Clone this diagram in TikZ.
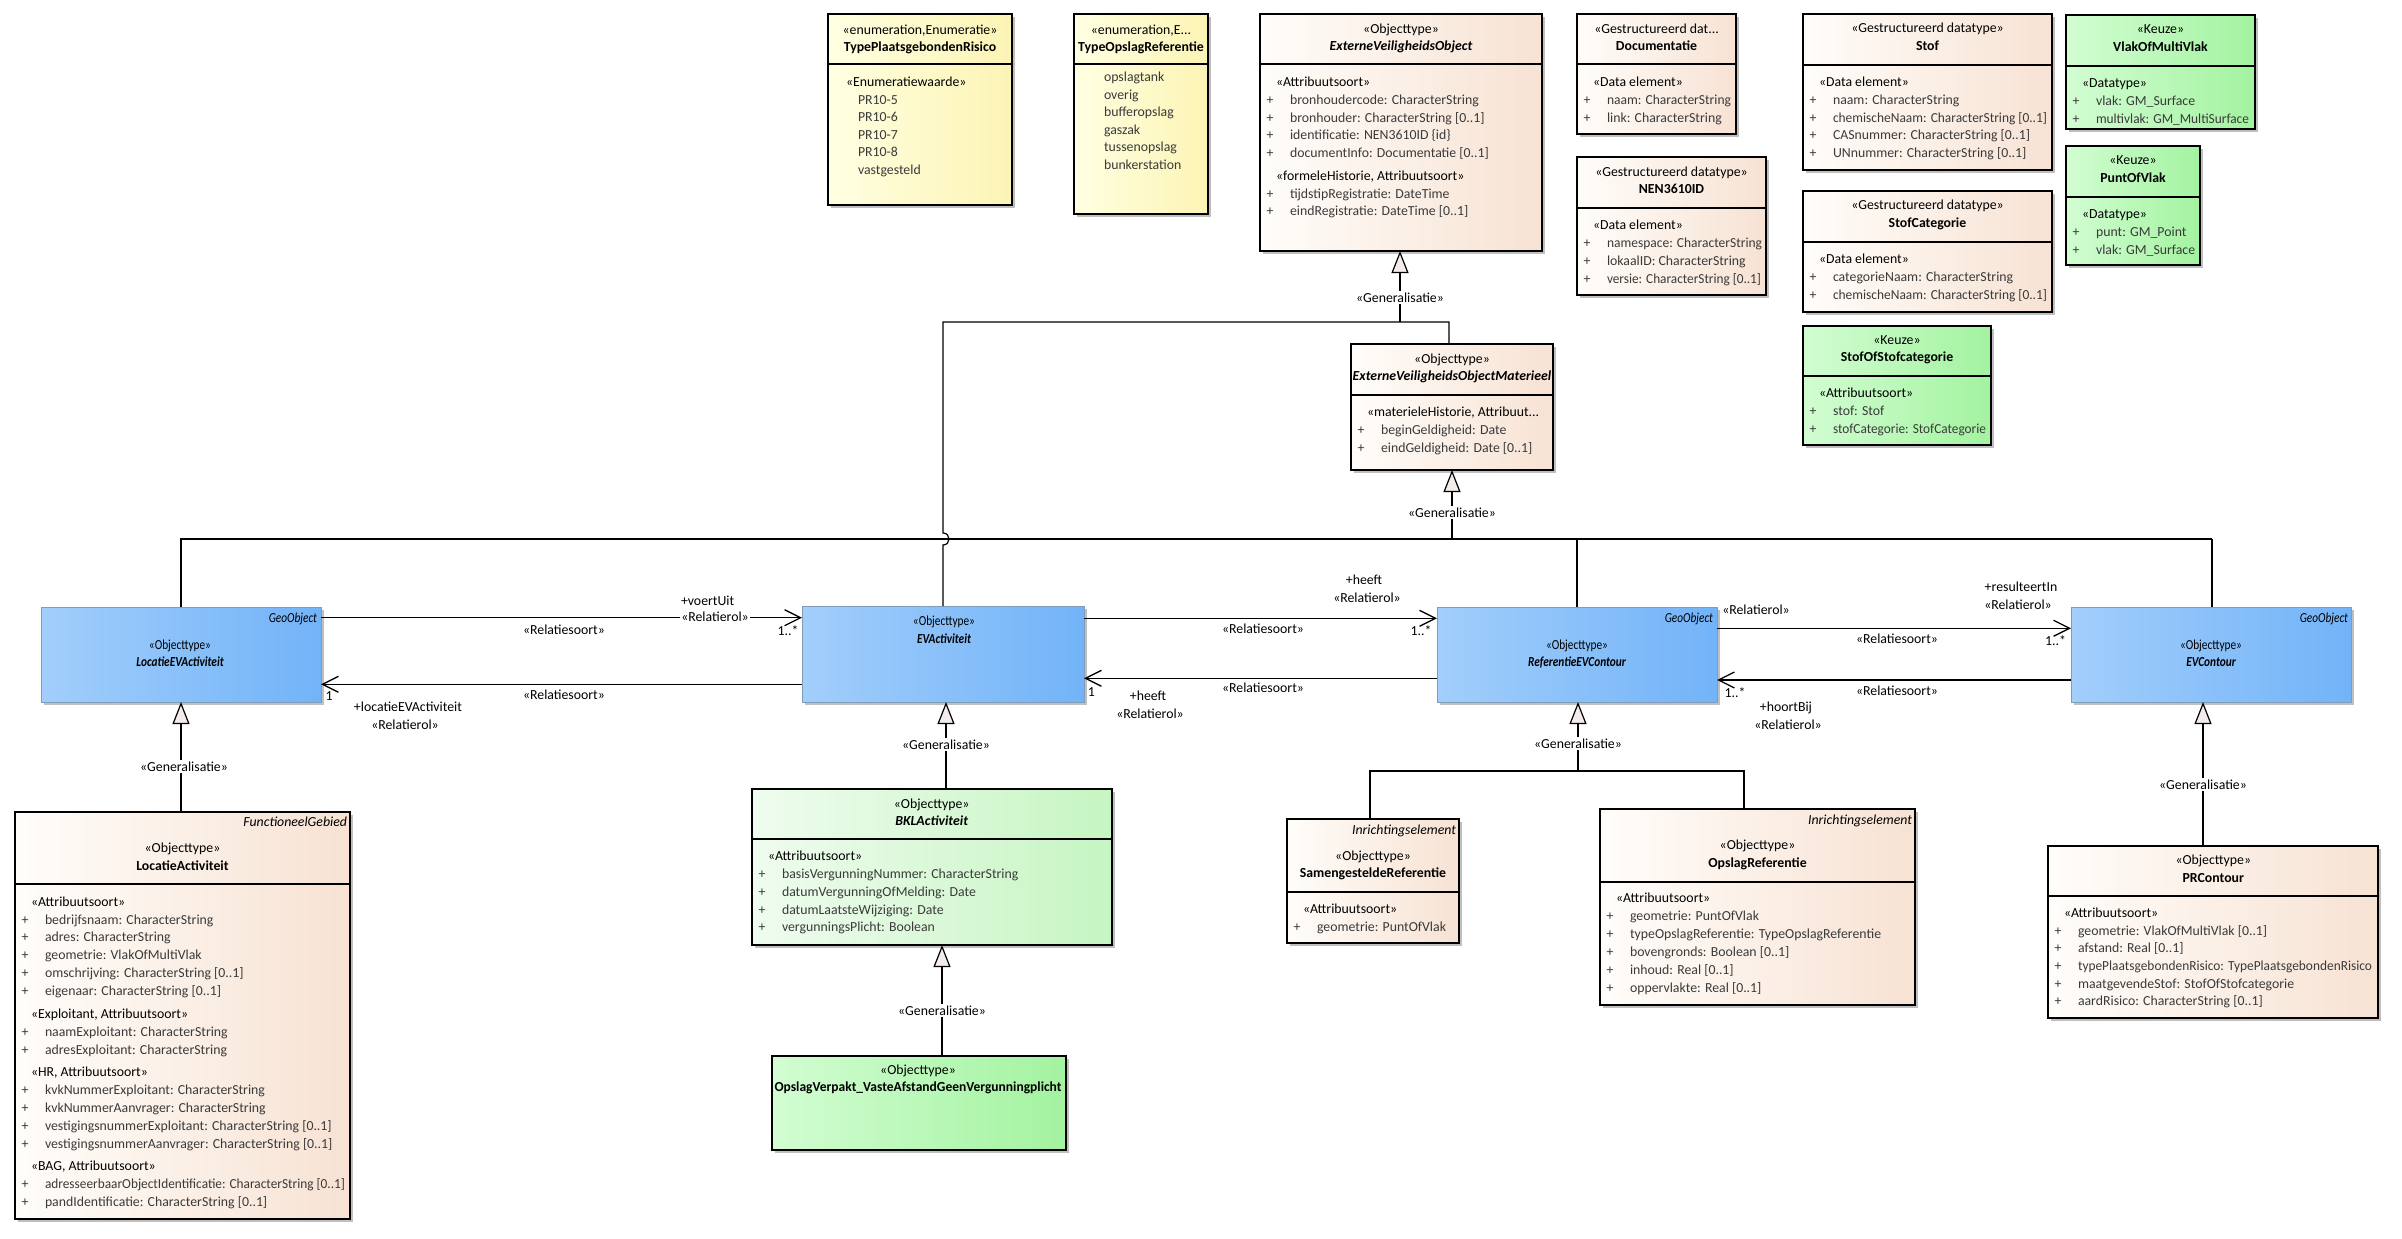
\documentclass[tikz,border=0pt]{standalone}
\usepackage{graphicx}
\usepackage{fontspec}
\setmainfont{Carlito}
\newfontfamily\narrowfont[FakeStretch=0.82]{Carlito}
\usetikzlibrary{arrows.meta,fit,shadows}
\definecolor{beigeL}{HTML}{FFFDFA}
\definecolor{beigeR}{HTML}{F7E2D3}
\definecolor{yelL}{HTML}{FFFFE2}
\definecolor{yelR}{HTML}{FCF4B4}
\definecolor{blueL}{HTML}{A2CEFB}
\definecolor{blueR}{HTML}{72B3F8}
\definecolor{blueD}{HTML}{7F9DB9}
\definecolor{grnL}{HTML}{D2FDD2}
\definecolor{grnR}{HTML}{A3F3A0}
\definecolor{lgrnL}{HTML}{EFFCEF}
\definecolor{lgrnR}{HTML}{C6F5C2}
\definecolor{trifill}{HTML}{F3ECEA}
\definecolor{attrc}{HTML}{3A3A3A}
\newcounter{tn}
\newcommand\tx[4][]{\stepcounter{tn}\node[anchor=mid,#1] (t\arabic{tn}) at (#2,#3) {#4};}
\newcommand\hd[4]{\tx{#1}{#2}{#3}\tx{#1}{#2+17.8}{#4}}
\newcommand\st[3]{\tx[anchor=mid west]{#1+16}{#2}{#3}}
\newcommand\at[3]{\tx[anchor=mid,text=attrc]{#1+10}{#2}{+}\tx[anchor=mid west,text=attrc]{#1+30}{#2}{#3}}
\newcommand\fw[2]{\resizebox{#1pt}{\height}{#2}}
\newcommand\sep[2]{\draw[sepline] (#1.west |- 0,#2) -- (#1.east |- 0,#2);}
\tikzset{
  every node/.style={font=\fontsize{13.8}{16}\selectfont, inner sep=0pt, outer sep=0pt},
  box/.style={draw=black, line width=1.4pt, inner sep=0pt,
    drop shadow={shadow xshift=3pt, shadow yshift=-3pt, fill=black!25, opacity=1}},
  beige/.style={box, left color=beigeL, right color=beigeR},
  yel/.style={box, left color=yelL, right color=yelR},
  blue/.style={box, draw=blueD, line width=1pt, left color=blueL, right color=blueR},
  green/.style={box, left color=grnL, right color=grnR},
  lgreen/.style={box, left color=lgrnL, right color=lgrnR},
  sepline/.style={line width=1.4pt},
  gline/.style={line width=1.2pt},
  gen/.style={line width=1.2pt, -{Triangle[length=22pt,width=17pt,fill=trifill]}},
  assoc/.style={line width=1.2pt, -{Straight Barb[length=16pt,width=16pt,line width=1.3pt]}},
  lab/.style={fill=white, inner sep=1.5pt},
}
\begin{document}
\begin{tikzpicture}[x=1pt,y=-1pt]
\useasboundingbox (0,0) rectangle (2402,1239);
\fill[white] (0,0) rectangle (2402,1239);

% ---------------- boxes
\node[yel, fit={(828,14) (1012,205)}] (tpr) {};
\node[yel, fit={(1074,14) (1208,214)}] (tor) {};
\node[beige, fit={(1260,14) (1542,251)}] (evo) {};
\node[beige, fit={(1577,14) (1736,134)}] (doc) {};
\node[beige, fit={(1577,157) (1766,295)}] (nen) {};
\node[beige, fit={(1803,14) (2052,170)}] (stof) {};
\node[beige, fit={(1803,191) (2052,312)}] (stofc) {};
\node[green, fit={(2066,15) (2255,129)}] (vmv) {};
\node[green, fit={(2066,146) (2200,265)}] (pov) {};
\node[green, fit={(1803,326) (1991,445)}] (sos) {};
\node[beige, fit={(1351,344) (1553,470)}] (evom) {};
\node[blue, fit={(41,607) (321,702)}] (levA) {};
\node[blue, fit={(802,606) (1084,702)}] (eva) {};
\node[blue, fit={(1437,607) (1717,702)}] (ref) {};
\node[blue, fit={(2071,607) (2351,702)}] (evc) {};
\node[beige, fit={(15,812) (350,1219)}] (la) {};
\node[lgreen, fit={(752,789) (1112,945)}] (bkl) {};
\node[green, fit={(772,1056) (1066,1150)}] (ovg) {};
\node[beige, fit={(1287,819) (1459,943)}] (samen) {};
\node[beige, fit={(1600,809) (1915,1005)}] (opslag) {};
\node[beige, fit={(2048,846) (2378,1018)}] (prc) {};

\sep{tpr}{64}\sep{tor}{64}\sep{evo}{64}\sep{doc}{64}\sep{nen}{208}
\sep{stof}{65}\sep{stofc}{242}\sep{vmv}{66}\sep{pov}{197}\sep{sos}{376}
\sep{evom}{395}\sep{la}{884}\sep{bkl}{839}\sep{samen}{892}\sep{opslag}{882}\sep{prc}{896}

% ---------------- box texts
\hd{920}{31.7}{«enumeration,Enumeratie»}{\bfseries TypePlaatsgebondenRisico}
\tx[anchor=mid west]{846}{84}{«Enumeratiewaarde»}
\tx[anchor=mid west,text=attrc]{858}{101.7}{PR10-5}
\tx[anchor=mid west,text=attrc]{858}{119.2}{PR10-6}
\tx[anchor=mid west,text=attrc]{858}{136.7}{PR10-7}
\tx[anchor=mid west,text=attrc]{858}{154.3}{PR10-8}
\tx[anchor=mid west,text=attrc]{858}{172}{vastgesteld}

\hd{1141}{31.7}{«enumeration,E...}{\bfseries TypeOpslagReferentie}
\tx[anchor=mid west,text=attrc]{1104}{79}{opslagtank}
\tx[anchor=mid west,text=attrc]{1104}{96.7}{overig}
\tx[anchor=mid west,text=attrc]{1104}{114.2}{bufferopslag}
\tx[anchor=mid west,text=attrc]{1104}{131.7}{gaszak}
\tx[anchor=mid west,text=attrc]{1104}{149.3}{tussenopslag}
\tx[anchor=mid west,text=attrc]{1104}{166.8}{bunkerstation}

\hd{1401}{30.7}{«Objecttype»}{\bfseries\itshape ExterneVeiligheidsObject}
\st{1260}{84}{«Attribuutsoort»}
\at{1260}{102}{bronhoudercode: CharacterString}
\at{1260}{119.7}{bronhouder: CharacterString [0..1]}
\at{1260}{137.3}{identificatie: NEN3610ID \{id\}}
\at{1260}{155}{documentInfo: Documentatie [0..1]}
\st{1260}{178}{«formeleHistorie, Attribuutsoort»}
\at{1260}{195.7}{tijdstipRegistratie: DateTime}
\at{1260}{213.3}{eindRegistratie: DateTime [0..1]}

\hd{1656.5}{30.7}{«Gestructureerd dat...}{\bfseries Documentatie}
\st{1577}{84}{«Data element»}
\at{1577}{102}{\fw{124}{naam: CharacterString}}
\at{1577}{119.7}{link: CharacterString}

\hd{1671.5}{173.7}{«Gestructureerd datatype»}{\bfseries NEN3610ID}
\st{1577}{227}{«Data element»}
\at{1577}{245}{\fw{155}{namespace: CharacterString}}
\at{1577}{263}{lokaalID: CharacterString}
\at{1577}{281}{\fw{154}{versie: CharacterString [0..1]}}

\hd{1927.5}{30.5}{«Gestructureerd datatype»}{\bfseries Stof}
\st{1803}{84}{«Data element»}
\at{1803}{102}{naam: CharacterString}
\at{1803}{119.7}{\fw{214}{chemischeNaam: CharacterString [0..1]}}
\at{1803}{137.3}{\fw{197}{CASnummer: CharacterString [0..1]}}
\at{1803}{155}{UNnummer: CharacterString [0..1]}

\hd{1927.5}{207}{«Gestructureerd datatype»}{\bfseries StofCategorie}
\st{1803}{260.7}{«Data element»}
\at{1803}{278.7}{categorieNaam: CharacterString}
\at{1803}{296.7}{\fw{214}{chemischeNaam: CharacterString [0..1]}}

\hd{2160.5}{31.3}{«Keuze»}{\bfseries VlakOfMultiVlak}
\st{2066}{84.7}{«Datatype»}
\at{2066}{102.7}{vlak: GM\_Surface}
\at{2066}{120.7}{\fw{153}{multivlak: GM\_MultiSurface}}

\hd{2133}{162.3}{«Keuze»}{\bfseries PuntOfVlak}
\st{2066}{215.7}{«Datatype»}
\at{2066}{233.7}{punt: GM\_Point}
\at{2066}{251.7}{vlak: GM\_Surface}

\hd{1897}{341.7}{«Keuze»}{\bfseries StofOfStofcategorie}
\st{1803}{394.7}{«Attribuutsoort»}
\at{1803}{412.7}{stof: Stof}
\at{1803}{430.7}{\fw{153}{stofCategorie: StofCategorie}}

\hd{1452}{360.7}{«Objecttype»}{\bfseries\itshape ExterneVeiligheidsObjectMaterieel}
\st{1351}{414}{«materieleHistorie, Attribuut...}
\at{1351}{432}{beginGeldigheid: Date}
\at{1351}{450}{eindGeldigheid: Date [0..1]}

\tx[anchor=mid east]{317}{620}{\narrowfont\itshape GeoObject}
\hd{180}{646.7}{\narrowfont «Objecttype»}{\narrowfont\bfseries\itshape LocatieEVActiviteit}
\hd{944}{623.3}{\narrowfont «Objecttype»}{\narrowfont\bfseries\itshape EVActiviteit}
\tx[anchor=mid east]{1713}{620}{\narrowfont\itshape GeoObject}
\hd{1577}{646.7}{\narrowfont «Objecttype»}{\narrowfont\bfseries\itshape ReferentieEVContour}
\tx[anchor=mid east]{2348}{620}{\narrowfont\itshape GeoObject}
\hd{2211}{646.7}{\narrowfont «Objecttype»}{\narrowfont\bfseries\itshape EVContour}

\tx[anchor=mid east]{347}{824.3}{\itshape FunctioneelGebied}
\hd{182.5}{850.3}{«Objecttype»}{\bfseries LocatieActiviteit}
\st{15}{903.7}{«Attribuutsoort»}
\at{15}{921.7}{bedrijfsnaam: CharacterString}
\at{15}{939.5}{adres: CharacterString}
\at{15}{957.2}{geometrie: VlakOfMultiVlak}
\at{15}{975}{omschrijving: CharacterString [0..1]}
\at{15}{992.7}{eigenaar: CharacterString [0..1]}
\st{15}{1015.7}{«Exploitant, Attribuutsoort»}
\at{15}{1034}{naamExploitant: CharacterString}
\at{15}{1051.7}{adresExploitant: CharacterString}
\st{15}{1074.3}{«HR, Attribuutsoort»}
\at{15}{1092.2}{kvkNummerExploitant: CharacterString}
\at{15}{1110}{kvkNummerAanvrager: CharacterString}
\at{15}{1127.8}{vestigingsnummerExploitant: CharacterString [0..1]}
\at{15}{1145.6}{vestigingsnummerAanvrager: CharacterString [0..1]}
\st{15}{1168.3}{«BAG, Attribuutsoort»}
\at{15}{1186.4}{\fw{300}{adresseerbaarObjectIdentificatie: CharacterString [0..1]}}
\at{15}{1204}{pandIdentificatie: CharacterString [0..1]}

\hd{931.7}{805.7}{«Objecttype»}{\bfseries\itshape BKLActiviteit}
\st{752}{858.3}{«Attribuutsoort»}
\at{752}{876.3}{basisVergunningNummer: CharacterString}
\at{752}{894}{datumVergunningOfMelding: Date}
\at{752}{911.7}{datumLaatsteWijziging: Date}
\at{752}{929.4}{vergunningsPlicht: Boolean}

\hd{918}{1071.7}{«Objecttype»}{\fw{287}{\bfseries OpslagVerpakt\_VasteAfstandGeenVergunningplicht}}

\tx[anchor=mid east]{1456}{831.7}{\itshape Inrichtingselement}
\hd{1373}{857.7}{«Objecttype»}{\bfseries SamengesteldeReferentie}
\st{1287}{910.7}{«Attribuutsoort»}
\at{1287}{928.7}{geometrie: PuntOfVlak}

\tx[anchor=mid east]{1912}{821.7}{\itshape Inrichtingselement}
\hd{1757.5}{847.3}{«Objecttype»}{\bfseries OpslagReferentie}
\st{1600}{900.3}{«Attribuutsoort»}
\at{1600}{918.5}{geometrie: PuntOfVlak}
\at{1600}{936.5}{typeOpslagReferentie: TypeOpslagReferentie}
\at{1600}{954.5}{bovengronds: Boolean [0..1]}
\at{1600}{972}{inhoud: Real [0..1]}
\at{1600}{990}{oppervlakte: Real [0..1]}

\hd{2213.3}{862.3}{«Objecttype»}{\bfseries PRContour}
\st{2048}{915}{«Attribuutsoort»}
\at{2048}{932.7}{geometrie: VlakOfMultiVlak [0..1]}
\at{2048}{950.3}{afstand: Real [0..1]}
\at{2048}{968}{\fw{294}{typePlaatsgebondenRisico: TypePlaatsgebondenRisico}}
\at{2048}{985.7}{maatgevendeStof: StofOfStofcategorie}
\at{2048}{1003.3}{aardRisico: CharacterString [0..1]}

% ---------------- generalisations
% to ExterneVeiligheidsObject
\draw[gline] (eva.north -| 943,0) -- (943,545) .. controls (951,545) and (951,533) .. (943,533) -- (943,322) -- (1449,322) -- (evom.north -| 1449,0);
\draw[gen] (1400,322) -- (evo.south -| 1400,0);
\tx[lab]{1400}{300}{«Generalisatie»}
% to ExterneVeiligheidsObjectMaterieel
\draw[gline] (levA.north -| 181,0) -- (181,539) -- (2212,539);
\draw[gline] (ref.north -| 1577,0) -- (1577,539);
\draw[gline] (evc.north -| 2212,0) -- (2212,539);
\draw[gen] (1452,539) -- (evom.south -| 1452,0);
\tx[lab]{1452}{515}{«Generalisatie»}
% LocatieActiviteit
\draw[gen] (la.north -| 181,0) -- (levA.south -| 181,0);
\tx[lab]{184}{769}{«Generalisatie»}
% BKLActiviteit
\draw[gen] (bkl.north -| 946,0) -- (eva.south -| 946,0);
\tx[lab]{946}{746.7}{«Generalisatie»}
% OpslagVerpakt
\draw[gen] (ovg.north -| 942,0) -- (bkl.south -| 942,0);
\tx[lab]{942}{1012.7}{«Generalisatie»}
% Samengestelde / Opslag
\draw[gline] (samen.north -| 1370,0) -- (1370,771) -- (1744,771) -- (opslag.north -| 1744,0);
\draw[gen] (1578,771) -- (ref.south -| 1578,0);
\tx[lab]{1578}{745.7}{«Generalisatie»}
% PRContour
\draw[gen] (prc.north -| 2203,0) -- (evc.south -| 2203,0);
\tx[lab]{2203}{786.7}{«Generalisatie»}

% ---------------- associations
\draw[assoc] (levA.east |- 0,617.7) -- (eva.west |- 0,617.7);
\tx{707.6}{603.3}{+voertUit}
\tx[lab]{715}{619.3}{«Relatierol»}
\tx{564}{631.7}{«Relatiesoort»}
\tx{788}{632.7}{1..*}

\draw[assoc] (eva.west |- 0,684.3) -- (levA.east |- 0,684.3);
\tx{329}{698.3}{1}
\tx{408}{709}{+locatieEVActiviteit}
\tx{405}{726.7}{«Relatierol»}
\tx{564}{696.7}{«Relatiesoort»}

\draw[assoc] (eva.east |- 0,618.3) -- (ref.west |- 0,618.3);
\tx{1364}{582}{+heeft}
\tx{1367}{600}{«Relatierol»}
\tx{1263}{631}{«Relatiesoort»}
\tx{1421}{633.3}{1..*}

\draw[assoc] (ref.west |- 0,678.3) -- (eva.east |- 0,678.3);
\tx{1091.4}{694}{1}
\tx{1148}{697.7}{+heeft}
\tx{1150}{715.7}{«Relatierol»}
\tx{1263}{690}{«Relatiesoort»}

\draw[assoc] (ref.east |- 0,628.3) -- (evc.west |- 0,628.3);
\tx{1756}{612}{«Relatierol»}
\tx{2021}{589.3}{+resulteertIn}
\tx{2018}{606.7}{«Relatierol»}
\tx{1897}{641}{«Relatiesoort»}
\tx{2055.6}{643.3}{1..*}

\draw[assoc] (evc.west |- 0,680) -- (ref.east |- 0,680);
\tx{1735}{695}{1..*}
\tx{1786}{709.3}{+hoortBij}
\tx{1788}{726.7}{«Relatierol»}
\tx{1897}{692.7}{«Relatiesoort»}
\end{tikzpicture}
\end{document}
